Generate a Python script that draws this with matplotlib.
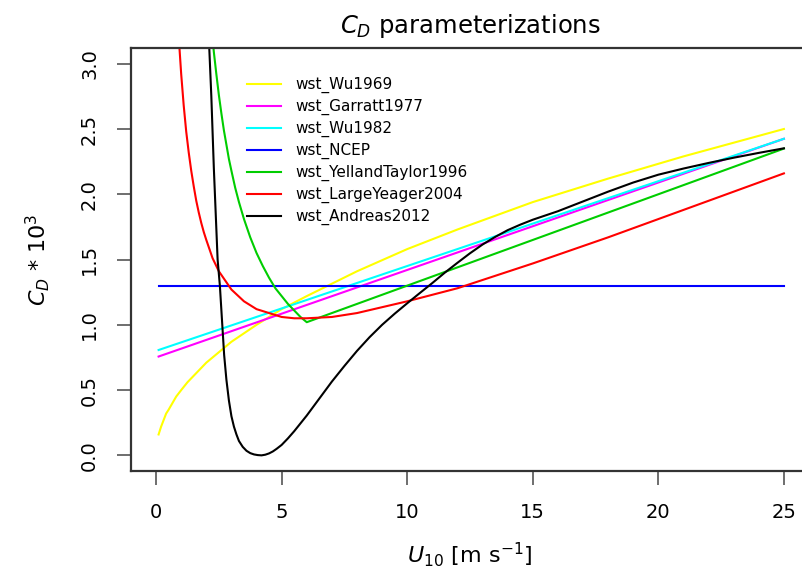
import numpy as np
import matplotlib
matplotlib.use('Agg')
import matplotlib.pyplot as plt

# values (C_D * 10^3 against U10)
u_wu1969 = [0.1, 0.15, 0.2, 0.3, 0.4, 0.5, 0.65, 0.8, 1.0, 1.25, 1.5, 2, 2.5, 3, 4, 5, 6,
            8, 10, 12, 15, 18, 21, 25]
cd_wu1969 = [0.16, 0.19, 0.22, 0.27, 0.32, 0.35, 0.40, 0.45, 0.50, 0.56, 0.61, 0.71,
             0.79, 0.87, 1.00, 1.12, 1.22, 1.41, 1.58, 1.73, 1.94, 2.12, 2.29, 2.50]

u_garratt1977 = [0.1, 25]
cd_garratt1977 = [0.757, 2.425]

u_wu1982 = [0.1, 25]
cd_wu1982 = [0.807, 2.425]

u_ncep = [0.1, 25]
cd_ncep = [1.3, 1.3]

u_yelland = [2.0, 2.1, 2.2, 2.3, 2.4, 2.5, 2.6, 2.7, 2.8, 2.9, 3.0, 3.15, 3.3, 3.5,
             3.75, 4.0, 4.25, 4.5, 4.75, 5.0, 5.25, 5.5, 5.75, 6.0, 25]
cd_yelland = [3.77, 3.52, 3.29, 3.09, 2.92, 2.76, 2.62, 2.49, 2.38, 2.27, 2.18, 2.05,
              1.94, 1.81, 1.67, 1.55, 1.45, 1.36, 1.28, 1.22, 1.16, 1.11, 1.06, 1.02,
              2.35]

u_large = [0.8, 0.9, 1.0, 1.1, 1.2, 1.3, 1.4, 1.5, 1.6, 1.7, 1.8, 1.9, 2.0, 2.25, 2.5,
           2.75, 3.0, 3.5, 4.0, 4.5, 5.0, 5.5, 6.0, 7.0, 8.0, 10, 12, 15, 18, 21, 25]
cd_large = [3.58, 3.21, 2.92, 2.68, 2.48, 2.32, 2.18, 2.06, 1.95, 1.86, 1.78, 1.71,
            1.65, 1.51, 1.41, 1.34, 1.27, 1.18, 1.12, 1.09, 1.06, 1.05, 1.05, 1.06,
            1.09, 1.18, 1.28, 1.47, 1.67, 1.88, 2.16]

u_andreas = [2.0, 2.1, 2.2, 2.3, 2.45, 2.54, 2.62, 2.71, 2.8, 2.9, 3.0, 3.1, 3.2, 3.3,
             3.45, 3.6, 3.75, 3.9, 4.05, 4.2, 4.35, 4.5, 4.65, 4.8, 5.0, 5.25, 5.5,
             5.75, 6.0, 6.5, 7.0, 7.5, 8.0, 8.5, 9.0, 9.5, 10.0, 10.5, 11.0, 11.5,
             12.0, 12.5, 13.0, 13.5, 14.0, 14.5, 15.0, 16.0, 17.0, 18.0, 19.0, 20.0,
             21.0, 22.0, 23.0, 24.0, 25.0]
cd_andreas = [3.75, 3.2, 2.75, 2.2, 1.5, 1.3, 1.05, 0.77, 0.58, 0.42, 0.30, 0.22, 0.16,
              0.11, 0.065, 0.035, 0.017, 0.007, 0.002, 0.0, 0.005, 0.015, 0.03, 0.05,
              0.08, 0.13, 0.185, 0.245, 0.305, 0.435, 0.565, 0.685, 0.80, 0.905, 1.0,
              1.085, 1.165, 1.243, 1.32, 1.40, 1.475, 1.548, 1.615, 1.673, 1.725,
              1.767, 1.805, 1.87, 1.945, 2.02, 2.09, 2.15, 2.197, 2.24, 2.28, 2.317,
              2.352]

labels = ['wst_Wu1969', 'wst_Garratt1977', 'wst_Wu1982', 'wst_NCEP',
          'wst_YellandTaylor1996', 'wst_LargeYeager2004', 'wst_Andreas2012']
colors = ['#FFFF00', '#FF00FF', '#00FFFF', '#0000FF', '#00CD00', '#FF0000', '#000000']

series = [(u_wu1969, cd_wu1969), (u_garratt1977, cd_garratt1977), (u_wu1982, cd_wu1982),
          (u_ncep, cd_ncep), (u_yelland, cd_yelland), (u_large, cd_large),
          (u_andreas, cd_andreas)]

fig = plt.figure(figsize=(8.03, 5.79), dpi=100)
# the right edge of the box is cut off in the reference
ax = fig.add_axes([0.1631, 0.1865, 0.8444, 0.7305])

for (u, cd), lab, col in zip(series, labels, colors):
    ax.plot(u, cd, color=col, lw=1.5, label=lab)

ax.set_xlim(-1, 26)
ax.set_ylim(-0.12, 3.12)
ax.set_xticks(np.arange(0, 26, 5))
ax.set_yticks(np.arange(0, 3.01, 0.5))
ax.set_yticklabels(['%.1f' % v for v in np.arange(0, 3.01, 0.5)], rotation=90, va='center')

for s in ax.spines.values():
    s.set_linewidth(1.6)
    s.set_color('#333333')
ax.spines['right'].set_visible(False)
ax.tick_params(direction='out', length=10, width=1.2, color='#555555',
               labelsize=14, pad=13)

ax.set_title(r'$C_D$ parameterizations', fontsize=17.5, pad=11)
ax.set_xlabel(r'$U_{10}$ [m s$^{-1}$]', fontsize=16, labelpad=13)
ax.set_ylabel(r'$C_D$ * 10$^3$', fontsize=16, labelpad=20)

ax.legend(loc='upper left', bbox_to_anchor=(0.171, 0.931), frameon=False,
          fontsize=11, handlelength=2.2, handletextpad=1.0, labelspacing=0.38,
          borderpad=0, borderaxespad=0)

fig.savefig('out.png', dpi=100)
